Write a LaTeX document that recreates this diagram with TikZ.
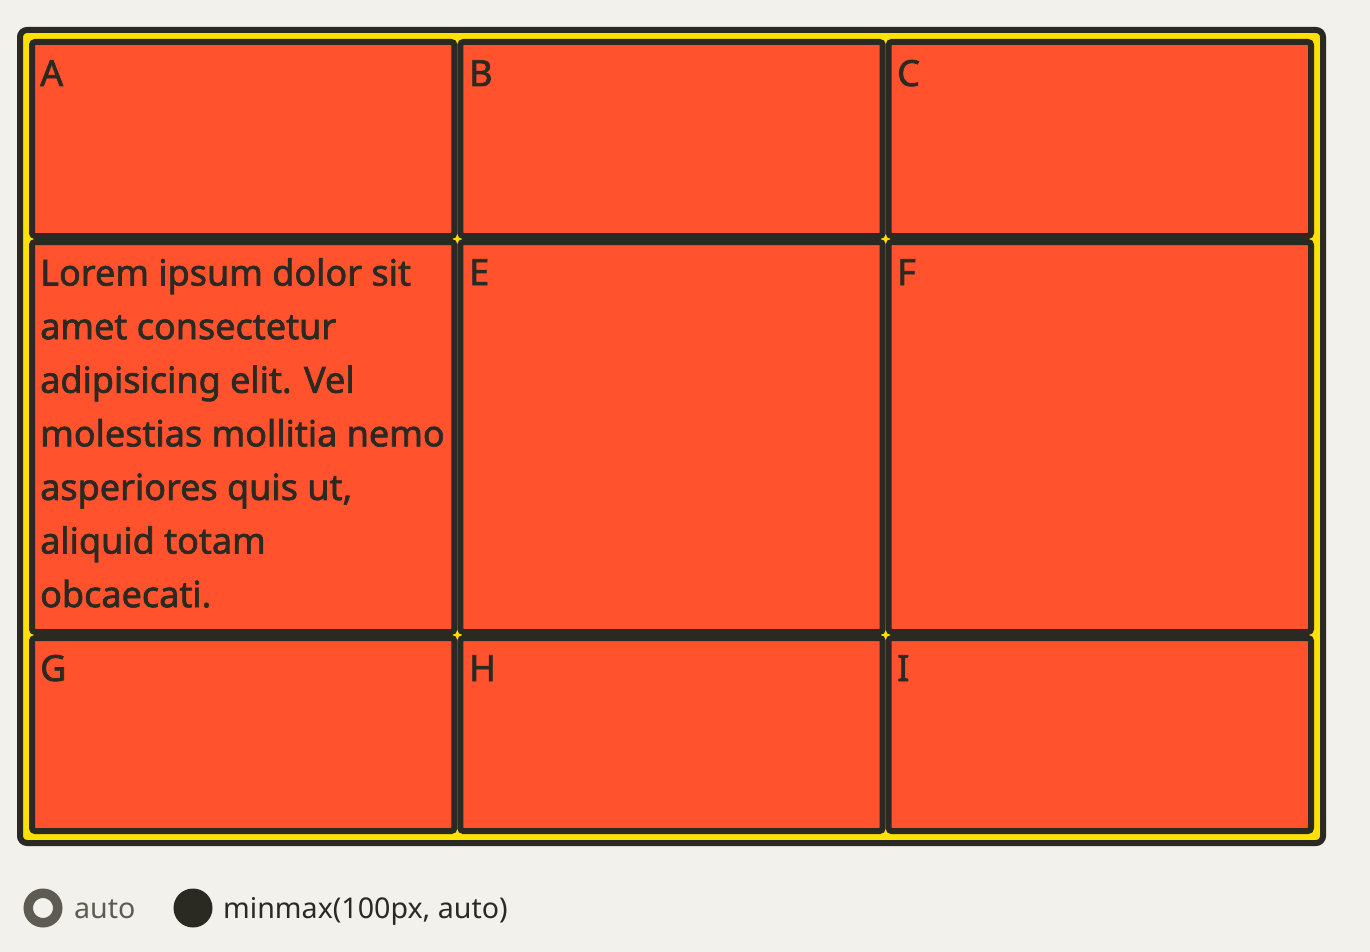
\documentclass[tikz,border=0pt]{standalone}
\usepackage{fontspec}
\setmainfont{Noto Sans}
\newfontfamily\cellfont{Noto Sans}[RawFeature={embolden=1.8}]
\usetikzlibrary{positioning}
\definecolor{pagebg}{HTML}{F3F1EC}
\definecolor{ink}{HTML}{2A2922}
\definecolor{gridyellow}{HTML}{FFE100}
\definecolor{cellred}{HTML}{FF522D}
\definecolor{mutedgray}{HTML}{5E5C52}

\begin{document}
\begin{tikzpicture}[x=1pt, y=-1pt, node distance=6pt,
  container/.style={draw=ink, fill=gridyellow, line width=6pt, rounded corners=7pt, inner sep=0pt},
  cell/.style={draw=ink, fill=cellred, line width=6pt, rounded corners=3pt, inner sep=0pt, outer sep=0pt, minimum width=422.33pt, anchor=north west},
  toprow/.style={cell, minimum height=194pt},
  midrow/.style={cell, minimum height=390pt},
  botrow/.style={cell, minimum height=193pt},
  letter/.style={text=ink, font=\cellfont\fontsize{36}{42}\selectfont, inner sep=0pt, anchor=base west},
  legend/.style={font=\fontsize{28.6}{34}\selectfont, inner sep=0pt, anchor=base west}]
  \fill[pagebg] (0,0) rectangle (1370,952);
  \useasboundingbox (0,0) rectangle (1370,952);
  % grid container
  \node[container, minimum width=1303pt, minimum height=813pt] (grid) at (671.5,436.5) {};
  % cells
  \node[toprow] (A) at (32,42) {};
  \node[toprow] (B) [right=of A] {};
  \node[toprow] (C) [right=of B] {};
  \node[midrow] (D) [below=of A] {};
  \node[midrow] (E) [right=of D] {};
  \node[midrow] (F) [right=of E] {};
  \node[botrow] (G) [below=of D] {};
  \node[botrow] (H) [right=of G] {};
  \node[botrow] (I) [right=of H] {};
  % cell texts
  \node[letter] (tA) at (40,86) {A};
  \node[letter] (tB) at (469,86) {B};
  \node[letter] (tC) at (897,86) {C};
  \node[letter, anchor=north west, align=left, font=\cellfont\fontsize{36}{53.6}\selectfont] (tD) at (40,258)
    {Lorem ipsum dolor sit\\amet consectetur\\adipisicing elit. Vel\\molestias mollitia nemo\\asperiores quis ut,\\aliquid totam\\obcaecati.};
  \node[letter] (tE) at (469,285) {E};
  \node[letter] (tF) at (897,285) {F};
  \node[letter] (tG) at (40,681) {G};
  \node[letter] (tH) at (469,681) {H};
  \node[letter] (tI) at (897,681) {I};
  % legend
  \node[circle, draw=mutedgray, line width=9.5pt, minimum size=29.5pt, inner sep=0pt] (autoMark) at (43,908) {};
  \node[legend, text=mutedgray] (autoText) at (74,918) {auto};
  \node[circle, fill=ink, minimum size=39pt, inner sep=0pt] (minmaxMark) at (193,908) {};
  \node[legend, text=ink] (minmaxText) at (223,918) {minmax(100px, auto)};
\end{tikzpicture}
\end{document}
